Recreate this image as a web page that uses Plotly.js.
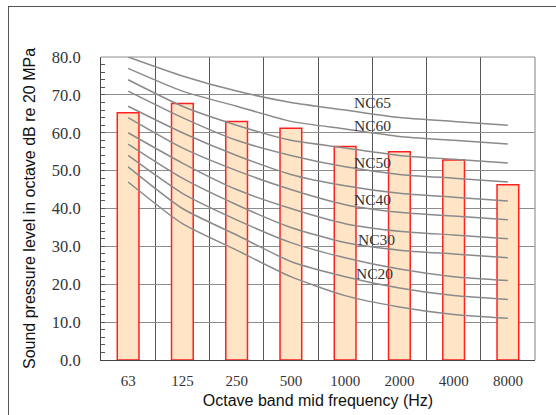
<!DOCTYPE html>
<html>
<head>
<meta charset="utf-8">
<script src="https://cdn.plot.ly/plotly-3.0.1.min.js"></script>
<style>
html,body{margin:0;padding:0;background:#fff;}
#wrap{position:relative;width:556px;height:415px;overflow:hidden;}
#chart{position:absolute;left:0;top:0;width:556px;height:415px;}
#frame{position:absolute;left:8px;top:6px;width:600px;height:500px;border-left:1px solid #555;border-top:1px solid #555;pointer-events:none;}
</style>
</head>
<body>
<div id="wrap"><div id="chart"></div><div id="frame"></div></div>
<script>
// Octave band categories
var freqs = ['63','125','250','500','1000','2000','4000','8000'];
// Measured sound pressure level (bars)
var measured = [65.3, 67.7, 63.0, 61.2, 56.4, 55.0, 52.8, 46.3];
// NC curves
var nc15 = [47,36,29,22,17,14,12,11];
var nc20 = [51,40,33,26,22,19,17,16];
var nc25 = [54,44,37,31,27,24,22,21];
var nc30 = [57,48,41,35,31,29,28,27];
var nc35 = [60,52,45,40,36,34,33,32];
var nc40 = [64,56,50,45,41,39,38,37];
var nc45 = [67,60,54,49,46,44,43,42];
var nc50 = [71,64,58,54,51,49,48,47];
var nc55 = [74,67,62,58,56,54,53,52];
var nc60 = [77,71,67,63,61,59,58,57];
var nc65 = [80,75,71,68,66,64,63,62];
var ncCurves = [nc15,nc20,nc25,nc30,nc35,nc40,nc45,nc50,nc55,nc60,nc65];
// Curve labels
var labelText = ['NC65','NC60','NC50','NC40','NC30','NC20'];
var labelY = [67.9, 61.9, 52.2, 42.3, 31.7, 22.9];
var labelX = [4.5, 4.5, 4.5, 4.5, 4.58, 4.54];

var traces = [{
  type:'bar', x:freqs, y:measured, width:0.4,
  marker:{color:'#FFE5C6', line:{color:'#FF2020', width:1.5}},
  hoverinfo:'x+y'
}];
ncCurves.forEach(function(c){
  traces.push({type:'scatter', mode:'lines', x:freqs, y:c,
    line:{color:'#8a8a8a', width:1.5, shape:'spline', smoothing:0.6}});
});

var serif = 'Liberation Serif, DejaVu Serif, serif';
var annotations = labelText.map(function(t,i){
  return {x:labelX[i], y:labelY[i], xref:'x', yref:'y', text:t, showarrow:false,
    font:{family:serif, size:15.5, color:'#333'}};
});

var layout = {
  width:556, height:415,
  margin:{l:101, r:21, t:57, b:55},
  paper_bgcolor:'#fff', plot_bgcolor:'#fff',
  showlegend:false,
  xaxis:{
    type:'category', tickson:'boundaries', showgrid:true, gridcolor:'#555', gridwidth:1,
    ticks:'', showline:true, linecolor:'#444', linewidth:1,
    ticklabelstandoff:7,
    tickfont:{family:serif, size:15, color:'#333'},
    title:{text:'Octave band mid frequency (Hz)', font:{family:'Liberation Sans, Arial, sans-serif', size:16, color:'#111'}, standoff:6}
  },
  yaxis:{
    range:[0,80], dtick:10, tickformat:'.1f', showgrid:true, gridcolor:'#8c8c8c', gridwidth:1,
    zeroline:false, showline:true, linecolor:'#444', linewidth:1,
    ticks:'inside', ticklen:4, tickcolor:'#555',
    minor:{dtick:2, ticks:'inside', ticklen:4, tickcolor:'#555', showgrid:false},
    ticklabelstandoff:16,
    tickfont:{family:serif, size:16.5, color:'#333'},
    title:{text:'Sound pressure level in octave dB re 20 MPa', font:{family:'Liberation Sans, Arial, sans-serif', size:16, color:'#111'}, standoff:12}
  },
  shapes:[
    {type:'line', xref:'paper', yref:'paper', x0:1, x1:1, y0:0, y1:1, line:{color:'#aaa', width:1.5}},
    {type:'line', xref:'paper', yref:'paper', x0:0, x1:1, y0:1, y1:1, line:{color:'#8c8c8c', width:1}}
  ],
  annotations:annotations
};
Plotly.newPlot('chart', traces, layout, {displayModeBar:false, staticPlot:true});
</script>
</body>
</html>
